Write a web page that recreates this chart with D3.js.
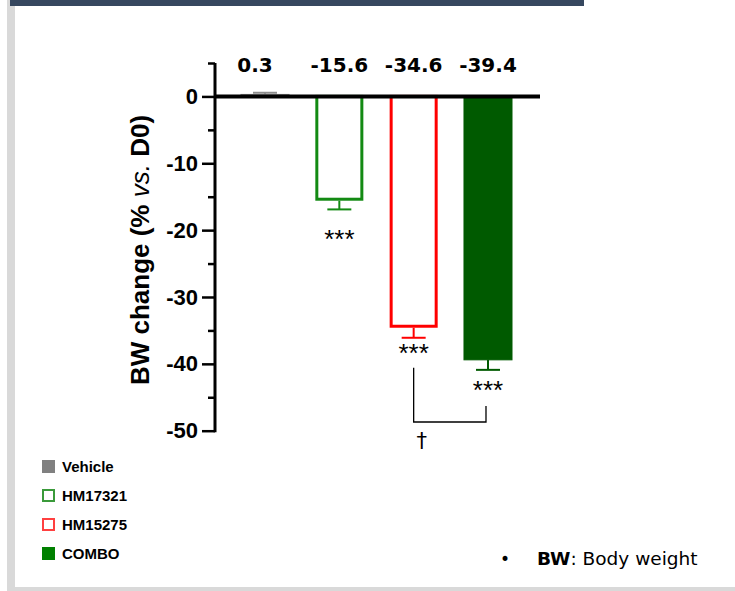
<!DOCTYPE html>
<html>
<head>
<meta charset="utf-8">
<script src="https://cdn.jsdelivr.net/npm/d3@7"></script>
<style>
    body { margin: 0; background: #fff; }
    svg { display: block; }
</style>
</head>
<body>
<div id="chart"></div>
<script>
// values (BW change, % vs D0)
var groups = ["Vehicle", "HM17321", "HM15275", "COMBO"];
var means = [0.3, -15.6, -34.6, -39.4];
var sems = [0.25, 1.3, 1.5, 1.5];
var meanLabels = ["0.3", "-15.6", "-34.6", "-39.4"];
var stars = ["", "***", "***", "***"];
var starPos = [0, -22.6, -39.7, -45.2];
var yTicksMajor = [0, -10, -20, -30, -40, -50];
var yTicksMinor = [5, -5, -15, -25, -35, -45];

var fills = ["#8c8c8c", "none", "none", "#005a00"];
var strokes = ["#8c8c8c", "#138a13", "#ff0000", "#005a00"];
var legendFill = ["#808080", "#fff", "#fff", "#008000"];
var legendStroke = ["#808080", "#3a9a3a", "#ff4040", "#008000"];

(() => {
    var width = 735;
    var height = 591;

    var svg = d3.select("#chart")
        .append("svg")
        .attr("width", width)
        .attr("height", height);

    // slide frame
    svg.append("rect").attr("x", 7).attr("y", 0).attr("width", 8).attr("height", 591).attr("fill", "#d9d9d9");
    svg.append("rect").attr("x", 7).attr("y", 587).attr("width", 728).attr("height", 4).attr("fill", "#d9d9d9");
    svg.append("rect").attr("x", 10).attr("y", 0).attr("width", 574).attr("height", 6).attr("fill", "#36475f");

    var xScale = d3.scaleBand()
        .domain(groups)
        .range([241, 512])
        .paddingInner(0.354)
        .paddingOuter(0);

    var yScale = d3.scaleLinear()
        .domain([5, -50])
        .range([63, 430.7]);

    var axisX = 215;

    // minor ticks
    svg.append("g")
        .attr("transform", "translate(" + axisX + ",0)")
        .call(d3.axisLeft(yScale).tickValues(yTicksMinor).tickSize(7).tickSizeOuter(0).tickFormat(""))
        .call(g => g.select(".domain").remove())
        .call(g => g.selectAll("line").attr("stroke", "#000").attr("stroke-width", 2.5));

    // major ticks
    svg.append("g")
        .attr("transform", "translate(" + axisX + ",0)")
        .call(d3.axisLeft(yScale).tickValues(yTicksMajor).tickSize(13).tickSizeOuter(0).tickPadding(4)
            .tickFormat(function (d) { return String(d); }))
        .call(g => g.select(".domain").attr("stroke", "#000").attr("stroke-width", 3)
            .attr("d", "M0," + yScale(5) + "V" + (yScale(-50) + 1.5)))
        .call(g => g.selectAll("line").attr("stroke", "#000").attr("stroke-width", 2.5))
        .call(g => g.selectAll("text")
            .attr("fill", "#000")
            .attr("font-family", "Liberation Sans, Arial, sans-serif")
            .attr("font-weight", "bold")
            .attr("font-size", "22px"));

    // y label
    var yLab = svg.append("text")
        .attr("transform", "translate(149,250) rotate(-90)")
        .attr("text-anchor", "middle")
        .attr("font-family", "Liberation Sans, Arial, sans-serif")
        .attr("font-weight", "bold")
        .attr("font-size", "26px")
        .attr("fill", "#000");
    yLab.append("tspan").text("BW change (% ");
    yLab.append("tspan").attr("font-style", "italic").attr("font-weight", "normal").text("vs.");
    yLab.append("tspan").text(" D0)");

    var data = groups.map(function (g, i) {
        return { g: g, mean: means[i], sem: sems[i], i: i };
    });

    // bars (outlined ones are inset by half the stroke)
    svg.selectAll(".bar")
        .data(data)
        .join("rect")
        .attr("class", "bar")
        .attr("x", function (d) { return xScale(d.g) + (fills[d.i] === "none" ? 1.5 : 0); })
        .attr("y", function (d) { return Math.min(yScale(d.mean), yScale(0)); })
        .attr("width", function (d) { return xScale.bandwidth() - (fills[d.i] === "none" ? 3 : 0); })
        .attr("height", function (d) { return Math.abs(yScale(d.mean) - yScale(0)) - (fills[d.i] === "none" ? 1.5 : 0); })
        .attr("fill", function (d) { return fills[d.i]; })
        .attr("stroke", function (d) { return strokes[d.i]; })
        .attr("stroke-width", function (d) { return fills[d.i] === "none" ? 3 : 1; });

    // error bars
    var err = svg.selectAll(".err")
        .data(data)
        .join("g")
        .attr("class", "err")
        .attr("stroke", function (d) { return strokes[d.i]; })
        .attr("stroke-width", 2);
    err.append("line")
        .attr("x1", function (d) { return xScale(d.g) + xScale.bandwidth() / 2; })
        .attr("x2", function (d) { return xScale(d.g) + xScale.bandwidth() / 2; })
        .attr("y1", function (d) { return yScale(d.mean); })
        .attr("y2", function (d) { return yScale(d.mean + (d.mean < 0 ? -d.sem : d.sem)); });
    err.append("line")
        .attr("x1", function (d) { return xScale(d.g) + xScale.bandwidth() / 2 - 12; })
        .attr("x2", function (d) { return xScale(d.g) + xScale.bandwidth() / 2 + 12; })
        .attr("y1", function (d) { return yScale(d.mean + (d.mean < 0 ? -d.sem : d.sem)); })
        .attr("y2", function (d) { return yScale(d.mean + (d.mean < 0 ? -d.sem : d.sem)); });

    // zero line
    svg.append("line")
        .attr("x1", axisX)
        .attr("x2", 540)
        .attr("y1", yScale(0))
        .attr("y2", yScale(0))
        .attr("stroke", "#000")
        .attr("stroke-width", 4);

    // mean labels on top
    svg.selectAll(".mean-label")
        .data(data)
        .join("text")
        .attr("class", "mean-label")
        .attr("x", function (d) { return xScale(d.g) + xScale.bandwidth() / 2 - (d.i === 0 ? 10 : 0); })
        .attr("y", 72)
        .attr("text-anchor", "middle")
        .attr("font-family", "DejaVu Sans, sans-serif")
        .attr("font-weight", "bold")
        .attr("font-size", "20px")
        .attr("fill", "#000")
        .text(function (d) { return meanLabels[d.i]; });

    // significance stars
    svg.selectAll(".stars")
        .data(data.filter(function (d) { return stars[d.i] !== ""; }))
        .join("text")
        .attr("class", "stars")
        .attr("x", function (d) { return xScale(d.g) + xScale.bandwidth() / 2; })
        .attr("y", function (d) { return yScale(starPos[d.i]); })
        .attr("text-anchor", "middle")
        .attr("font-family", "Liberation Sans, Arial, sans-serif")
        .attr("font-size", "26px")
        .attr("fill", "#000")
        .text(function (d) { return stars[d.i]; });

    // bracket HM15275 vs COMBO
    var cx2 = xScale("HM15275") + xScale.bandwidth() / 2;
    var cx3 = xScale("COMBO") + xScale.bandwidth() / 2 - 2;
    svg.append("path")
        .attr("d", "M" + cx2 + "," + yScale(-40.6) + "V" + yScale(-48.7) + "H" + cx3 + "V" + yScale(-46.3))
        .attr("fill", "none")
        .attr("stroke", "#000")
        .attr("stroke-width", 1.3);
    svg.append("text")
        .attr("x", cx2 + 8)
        .attr("y", yScale(-52.6))
        .attr("text-anchor", "middle")
        .attr("font-family", "DejaVu Sans, sans-serif")
        .attr("font-size", "21px")
        .attr("fill", "#000")
        .text("\u2020");

    // legend
    var legY = [460, 489, 518, 547];
    var leg = svg.selectAll(".legend")
        .data(data)
        .join("g")
        .attr("class", "legend")
        .attr("transform", function (d) { return "translate(42," + legY[d.i] + ")"; });
    leg.append("rect")
        .attr("x", 1)
        .attr("y", 1)
        .attr("width", 11)
        .attr("height", 11)
        .attr("fill", function (d) { return legendFill[d.i]; })
        .attr("stroke", function (d) { return legendStroke[d.i]; })
        .attr("stroke-width", 2);
    leg.append("text")
        .attr("x", 20)
        .attr("y", 12)
        .attr("font-family", "Liberation Sans, sans-serif")
        .attr("font-weight", "bold")
        .attr("font-size", "15px")
        .attr("fill", "#000")
        .text(function (d) { return d.g; });

    // footnote
    svg.append("text")
        .attr("x", 500)
        .attr("y", 565)
        .attr("font-family", "DejaVu Sans, sans-serif")
        .attr("font-size", "17px")
        .attr("fill", "#000")
        .text("\u2022");
    var note = svg.append("text")
        .attr("x", 537)
        .attr("y", 565)
        .attr("font-family", "DejaVu Sans, sans-serif")
        .attr("font-size", "18.5px")
        .attr("fill", "#000");
    note.append("tspan").attr("font-weight", "bold").text("BW");
    note.append("tspan").text(": Body weight");
})();
</script>
</body>
</html>
